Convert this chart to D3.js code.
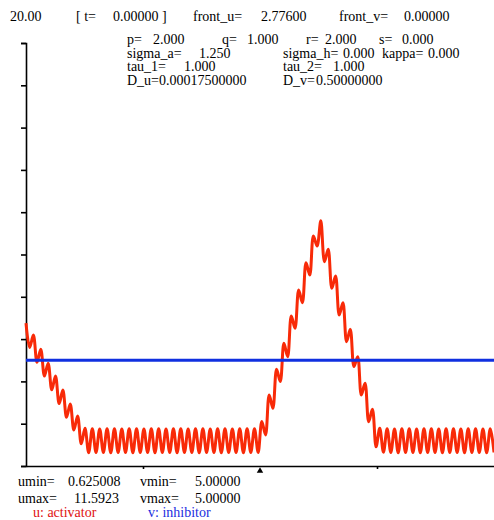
<!DOCTYPE html>
<html>
<head>
<meta charset="utf-8">
<script src="https://cdn.jsdelivr.net/npm/d3@7"></script>
<style>
  body { margin: 0; background: #fff; }
  svg text { font-family: "Liberation Serif", "Times New Roman", serif; font-size: 14px; fill: #000; }
</style>
</head>
<body>
<div id="chart"></div>
<script>
const uValues = [
  6.75, 5.60, 6.19, 4.90, 5.52, 4.25, 4.86, 3.60, 4.26, 2.95,
  3.59, 2.30, 2.93, 1.70, 2.36, 1.05, 1.78, 0.63, 1.76, 0.64,
  1.75, 0.64, 1.76, 0.63, 1.76, 0.64, 1.75, 0.64, 1.76, 0.63,
  1.76, 0.64, 1.75, 0.64, 1.76, 0.63, 1.76, 0.64, 1.75, 0.64,
  1.76, 0.63, 1.76, 0.64, 1.75, 0.64, 1.76, 0.63, 1.76, 0.64,
  1.75, 0.64, 1.76, 0.63, 1.76, 0.64, 1.75, 0.64, 1.76, 0.63,
  1.76, 0.64, 1.76, 0.64, 2.10, 1.47, 3.36, 2.73, 4.57, 3.99,
  5.80, 5.17, 7.09, 6.51, 8.32, 7.72, 9.61, 9.03, 10.87, 10.40,
  11.59, 9.66, 10.25, 8.40, 8.98, 7.14, 7.72, 5.88, 6.46, 4.70,
  5.17, 3.36, 3.91, 2.09, 2.68, 0.91, 1.78, 0.65, 1.76, 0.64,
  1.75, 0.63, 1.76, 0.64, 1.76, 0.64, 1.75, 0.63, 1.76, 0.64,
  1.76, 0.64, 1.75, 0.63, 1.76, 0.64, 1.76, 0.64, 1.75, 0.63,
  1.76, 0.64, 1.76, 0.64, 1.75, 0.63, 1.76, 0.64
];
// inhibitor v is flat
const vValue = 5.0;

const yTicks = [0, 2, 4, 6, 8, 10, 12, 14, 16, 18, 20];
const xTicks = [0.25, 0.75];
const xMarker = 0.5;

const headerTexts = [
  { t: '20.00', x: 10 },
  { t: '[ t=', x: 76 },
  { t: '0.00000 ]', x: 113 },
  { t: 'front_u=', x: 193 },
  { t: '2.77600', x: 261 },
  { t: 'front_v=', x: 339 },
  { t: '0.00000', x: 404 },
];
const paramRows = [
  [['p=', 127], ['2.000', 153], ['q=', 222], ['1.000', 247], ['r=', 306], ['2.000', 325], ['s=', 379], ['0.000', 402]],
  [['sigma_a=', 127], ['1.250', 199], ['sigma_h=', 283], ['0.000', 343], ['kappa=', 382], ['0.000', 428]],
  [['tau_1=', 127], ['1.000', 184], ['tau_2=', 283], ['1.000', 333]],
  [['D_u=0.00017500000', 127], ['D_v=', 283], ['0.50000000', 316]],
];
const statRows = [
  [['umin=', 18], ['0.625008', 68], ['vmin=', 140], ['5.00000', 195]],
  [['umax=', 18], ['11.5923', 74], ['vmax=', 140], ['5.00000', 195]],
];

const width = 494, height = 520;
const svg = d3.select('#chart').append('svg')
  .attr('width', width)
  .attr('height', height);

const x = d3.scaleLinear().domain([0, 1]).range([26, 494]);
const y = d3.scaleLinear().domain([0, 20]).range([466, 43]);

// axes
const yAxis = d3.axisLeft(y).tickValues(yTicks).tickSize(5).tickSizeOuter(5).tickFormat('');
const gy = svg.append('g').attr('transform', `translate(${x(0)},0)`).call(yAxis);
const xAxis = d3.axisBottom(x).tickValues(xTicks).tickSize(3).tickSizeOuter(0).tickFormat('');
const gx = svg.append('g').attr('transform', `translate(0,${y(0)})`).call(xAxis);
[gy, gx].forEach(g => {
  g.selectAll('path, line').attr('stroke', '#000').attr('stroke-width', 1.6);
});

svg.append('path')
  .attr('d', d3.symbol(d3.symbolTriangle, 18)())
  .attr('transform', `translate(${x(xMarker)},${y(0) + 5})`)
  .attr('fill', '#000');

// u curve
const nGrid = uValues.length;
const line = d3.line()
  .x((d, i) => x(i / (nGrid - 1)))
  .y(d => y(d))
  .curve(d3.curveCatmullRom);

svg.append('path')
  .datum(uValues)
  .attr('d', line)
  .attr('fill', 'none')
  .attr('stroke', '#f82a08')
  .attr('stroke-width', 3);

// v line
svg.append('line')
  .attr('x1', x(0)).attr('x2', x(1))
  .attr('y1', y(vValue)).attr('y2', y(vValue))
  .attr('stroke', '#1030e0')
  .attr('stroke-width', 3);

// texts
svg.selectAll('.head').data(headerTexts).join('text')
  .attr('class', 'head')
  .attr('x', d => d.x).attr('y', 21)
  .text(d => d.t);

paramRows.forEach((row, r) => {
  row.forEach(([t, px]) => {
    svg.append('text').attr('x', px).attr('y', 44 + r * 13.7).text(t);
  });
});

statRows.forEach((row, r) => {
  row.forEach(([t, px]) => {
    svg.append('text').attr('x', px).attr('y', 486 + r * 17).text(t);
  });
});

svg.append('text').attr('x', 33).attr('y', 517).style('fill', '#e01010').text('u: activator');
svg.append('text').attr('x', 148).attr('y', 517).style('fill', '#1a2ee0').text('v: inhibitor');
</script>
</body>
</html>
